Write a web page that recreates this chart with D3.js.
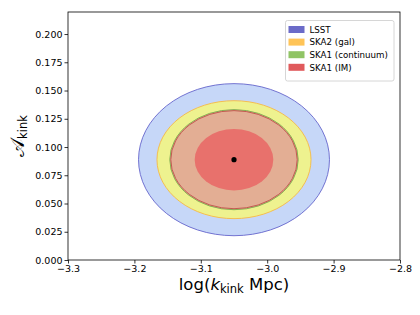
<!DOCTYPE html>
<html>
<head>
<meta charset="utf-8">
<script src="https://cdn.jsdelivr.net/npm/d3@7"></script>
<style>
  body { margin: 0; background: #fff; }
  svg { font-family: "DejaVu Sans", sans-serif; }
</style>
</head>
<body>
<div class="canvas"></div>
<script>
// forecast contours: centre plus half-widths in x (log k) and y (A_kink)
const centre = [-3.05, 0.0888];
const contours = [
  { name: "LSST 2sig", rx: 0.1438, ry: 0.0673, fill: "#c6d7f8", stroke: "#6565cc" },
  { name: "SKA2 2sig", rx: 0.1160, ry: 0.0522, fill: "#eef28f", stroke: "#f7b944" },
  { name: "SKA1c 2sig", rx: 0.0967, ry: 0.0443, fill: "#e3ae94", stroke: "#78b04c" },
  { name: "SKA1IM 2sig", rx: 0.0952, ry: 0.0434, fill: "#e3ae94", stroke: "#c0504a" },
  { name: "SKA1IM 1sig", rx: 0.0592, ry: 0.0272, fill: "#e8716c", stroke: "none" }
];
const legendNames = ["LSST", "SKA2 (gal)", "SKA1 (continuum)", "SKA1 (IM)"];
const legendColors = ["#6b6bc8", "#ffc457", "#90c465", "#e05a5c"];
const xTicks = [-3.3, -3.2, -3.1, -3.0, -2.9, -2.8];
const yTicks = [0, 0.025, 0.05, 0.075, 0.1, 0.125, 0.15, 0.175, 0.2];

const svg = d3.select('.canvas')
  .append('svg')
  .attr('width', 420)
  .attr('height', 315);

const m = { left: 68, right: 400, top: 12, bottom: 260 };

const x = d3.scaleLinear().domain([-3.3, -2.8]).range([m.left, m.right]);
const y = d3.scaleLinear().domain([0, 0.2195]).range([m.bottom, m.top]);

const graph = svg.append('g');

graph.selectAll('ellipse')
  .data(contours)
  .enter()
  .append('ellipse')
  .attr('cx', x(centre[0]))
  .attr('cy', y(centre[1]))
  .attr('rx', d => x(centre[0] + d.rx) - x(centre[0]))
  .attr('ry', d => y(centre[1]) - y(centre[1] + d.ry))
  .attr('fill', d => d.fill)
  .attr('stroke', d => d.stroke)
  .attr('stroke-width', 0.9);

graph.append('circle')
  .attr('cx', x(centre[0]))
  .attr('cy', y(centre[1]))
  .attr('r', 2.6)
  .attr('fill', 'black');

// axes
const xAxis = svg.append('g')
  .attr('transform', `translate(0, ${m.bottom})`)
  .call(d3.axisBottom(x).tickValues(xTicks).tickSize(3.5).tickPadding(2)
    .tickFormat(d => d3.format('.1f')(d).replace('-', '\u2212')));
const yAxis = svg.append('g')
  .attr('transform', `translate(${m.left}, 0)`)
  .call(d3.axisLeft(y).tickValues(yTicks).tickSize(3.5).tickPadding(2)
    .tickFormat(d3.format('.3f')));

[xAxis, yAxis].forEach(a => {
  a.select('.domain').remove();
  a.selectAll('text').attr('font-size', 9.5).attr('fill', '#000')
    .attr('font-family', '"DejaVu Sans", sans-serif');
  a.selectAll('line').attr('stroke', '#000').attr('stroke-width', 0.8);
});

svg.append('rect')
  .attr('x', m.left).attr('y', m.top)
  .attr('width', m.right - m.left).attr('height', m.bottom - m.top)
  .attr('fill', 'none').attr('stroke', '#000').attr('stroke-width', 0.8);

// axis labels
const xl = svg.append('text')
  .attr('x', (m.left + m.right) / 2).attr('y', 290)
  .attr('text-anchor', 'middle')
  .attr('font-size', 16.5);
xl.append('tspan').text('log(');
xl.append('tspan').attr('font-style', 'italic').text('k');
xl.append('tspan').attr('font-size', 11.5).attr('dy', 3).text('kink');
xl.append('tspan').attr('dy', -3).text(' Mpc)');

const yl = svg.append('text')
  .attr('transform', 'translate(24, 136) rotate(-90)')
  .attr('text-anchor', 'middle')
  .attr('font-size', 16.5);
yl.append('tspan').attr('font-size', 19).text('\u{1D49C}');
yl.append('tspan').attr('font-size', 11.5).attr('dy', 3).text('kink');

// legend
const legend = svg.append('g').attr('transform', 'translate(285.5, 20.5)');
legend.append('rect')
  .attr('width', 108.5).attr('height', 60.5).attr('rx', 2)
  .attr('fill', 'white').attr('fill-opacity', 0.85)
  .attr('stroke', '#ccc').attr('stroke-width', 0.8);
const items = legend.selectAll('g.item')
  .data(legendNames)
  .enter()
  .append('g')
  .attr('transform', (d, i) => `translate(3, ${5.5 + i * 12.6})`);
items.append('rect')
  .attr('width', 16).attr('height', 7)
  .attr('fill', (d, i) => legendColors[i]);
items.append('text')
  .attr('x', 21).attr('y', 6.8)
  .attr('font-size', 8.7)
  .text(d => d);
</script>
</body>
</html>
